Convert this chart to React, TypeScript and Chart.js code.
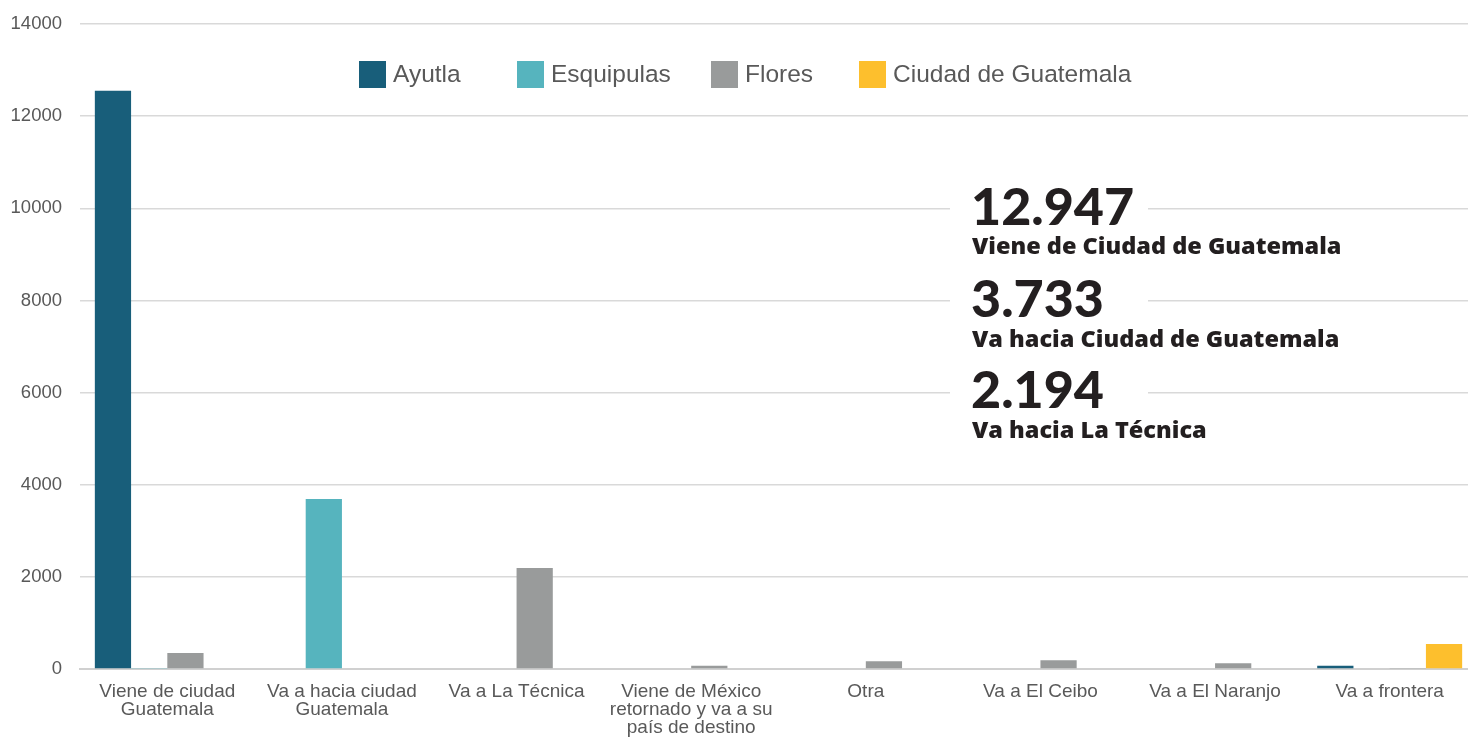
import React, { useEffect, useRef } from "react";
import { Chart, registerables } from "chart.js";

Chart.register(...registerables);

const categories: (string | string[])[] = [
  ["Viene de ciudad", "Guatemala"],
  ["Va a hacia ciudad", "Guatemala"],
  "Va a La Técnica",
  ["Viene de México", "retornado y va a su", "país de destino"],
  "Otra",
  "Va a El Ceibo",
  "Va a El Naranjo",
  "Va a frontera",
];

const seriesNames = ["Ayutla", "Esquipulas", "Flores", "Ciudad de Guatemala"];
const seriesColors = ["#185E7A", "#56B4BE", "#999B9B", "#FDBF2D"];

const ayutla = [12550, 15, 0, 15, 0, 0, 0, 72];
const esquipulas = [10, 3690, 0, 0, 0, 0, 0, 0];
const flores = [350, 0, 2194, 72, 167, 189, 124, 10];
const ciudad = [15, 15, 0, 15, 15, 0, 0, 543];

const yTicks = [0, 2000, 4000, 6000, 8000, 10000, 12000, 14000];

const highlightValues = ["12.947", "3.733", "2.194"];
const highlightLabels = [
  "Viene de Ciudad de Guatemala",
  "Va hacia Ciudad de Guatemala",
  "Va hacia La Técnica",
];

const overlayPlugin = {
  id: "overlay",
  afterDraw(chart: any) {
    const ctx = chart.ctx as CanvasRenderingContext2D;
    ctx.save();
    // legend
    const legendX = [359, 517, 711, 859];
    chart.data.datasets.forEach((ds: any, i: number) => {
      const x = legendX[i];
      ctx.fillStyle = ds.backgroundColor;
      ctx.fillRect(x, 61, 27, 27);
      ctx.fillStyle = "#595959";
      ctx.font = '24.5px "Liberation Sans", Arial, sans-serif';
      ctx.textBaseline = "middle";
      ctx.textAlign = "left";
      ctx.fillText(ds.label, x + 34, 75);
    });
    // highlights
    const numBase = [225, 317, 408];
    const subBase = [254, 347, 438];
    highlightValues.forEach((v, i) => {
      ctx.fillStyle = "#ffffff";
      ctx.fillRect(950, numBase[i] - 42, 198, 48);
      ctx.fillStyle = "#231F20";
      ctx.textBaseline = "alphabetic";
      ctx.font = '900 52px Lato, sans-serif';
      ctx.fillText(v, 971, numBase[i]);
      ctx.font = '800 23.5px "Open Sans", sans-serif';
      ctx.fillText(highlightLabels[i], 972, subBase[i]);
    });
    ctx.restore();
  },
};

export default function App() {
  const ref = useRef<HTMLCanvasElement>(null);
  useEffect(() => {
    document.body.style.margin = "0";
    const datasetsData = [ayutla, esquipulas, flores, ciudad];
    const chart = new Chart(ref.current!, {
      type: "bar",
      data: {
        labels: categories,
        datasets: datasetsData.map((d, i) => ({
          label: seriesNames[i],
          data: d,
          backgroundColor: seriesColors[i],
          borderWidth: 0,
          categoryPercentage: 0.83,
          barPercentage: 1,
        })),
      },
      options: {
        responsive: false,
        animation: false,
        devicePixelRatio: 1,
        layout: { autoPadding: false, padding: { top: 24, left: 0, right: 0, bottom: 0 } },
        plugins: {
          legend: { display: false },
          tooltip: { enabled: false },
        },
        scales: {
          x: {
            grid: { display: false },
            border: { display: true, color: "#D0D0D0", width: 2 },
            ticks: {
              color: "#595959",
              font: { family: '"Liberation Sans", Arial, sans-serif', size: 19, lineHeight: 0.95 },
              padding: 6,
              maxRotation: 0,
              autoSkip: false,
            },
            afterFit(scale: any) {
              scale.height = 68;
            },
          },
          y: {
            min: 0,
            max: 14000,
            afterBuildTicks(scale: any) {
              scale.ticks = yTicks.map((v) => ({ value: v }));
            },
            grid: { color: "#D9D9D9", lineWidth: 1.5, drawTicks: false },
            border: { display: false },
            ticks: {
              color: "#595959",
              font: { family: '"Liberation Sans", Arial, sans-serif', size: 18.5, lineHeight: 0.6 },
              padding: 18,
              callback: (v: any) => String(v),
            },
            afterFit(scale: any) {
              scale.width = 80;
            },
          },
        },
      },
      plugins: [overlayPlugin],
    });
    return () => chart.destroy();
  }, []);
  return (
    <div style={{ width: 1468, height: 737, overflow: "hidden", position: "relative", background: "#fff" }}>
      <canvas ref={ref} width={1477} height={737} style={{ display: "block" }} />
    </div>
  );
}
